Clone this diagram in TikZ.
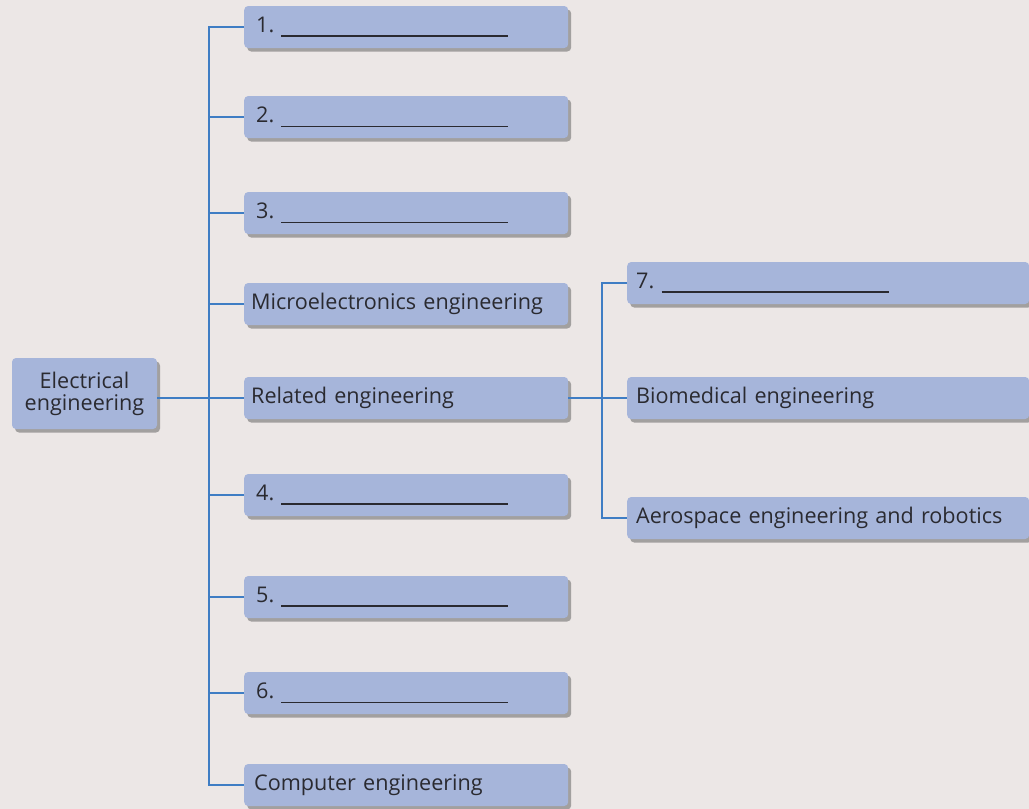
\documentclass[tikz,border=0pt]{standalone}
\usepackage{fontspec}
\setmainfont{Open Sans}
\usetikzlibrary{shadows}
\definecolor{bg}{HTML}{ECE7E6}
\definecolor{boxfill}{HTML}{A6B5DA}
\definecolor{conncol}{HTML}{3F7DC4}
\definecolor{txt}{HTML}{2A2A30}
\newcommand{\blankline}{\rule[-4pt]{227pt}{1.3pt}}
\tikzset{
  box/.style={rectangle, rounded corners=4pt, fill=boxfill, text=txt,
    minimum height=42pt, inner ysep=0pt, align=left,
    font=\fontsize{21.6}{25}\selectfont,
    drop shadow={shadow xshift=3pt, shadow yshift=-3.5pt, fill=black!60, opacity=0.55}},
  leftbox/.style={box, anchor=west, text width=310pt, inner xsep=7pt, minimum width=324pt},
  rightbox/.style={box, anchor=west, text width=384pt, inner xsep=9pt, minimum width=402pt},
  conn/.style={draw=conncol, line width=1.2pt}
}
\begin{document}
\begin{tikzpicture}[x=1pt,y=-1pt]
\useasboundingbox (0,0) rectangle (1029,809);
\fill[bg] (0,0) rectangle (1029,809);
% root
\node[box, align=center, minimum width=145pt, minimum height=71pt, inner xsep=4pt] (el) at (84.5,393.5) {Electrical\\[-3pt]engineering};
% left column
\node[leftbox] (b1) at (244,27) {\hspace*{5pt}1.~\blankline};
\node[leftbox] (b2) at (244,117) {\hspace*{5pt}2.~\blankline};
\node[leftbox] (b3) at (244,213) {\hspace*{5pt}3.~\blankline};
\node[leftbox] (mic) at (244,304) {Microelectronics engineering};
\node[leftbox] (rel) at (244,398) {Related engineering};
\node[leftbox] (b4) at (244,495) {\hspace*{5pt}4.~\blankline};
\node[leftbox] (b5) at (244,597) {\hspace*{5pt}5.~\blankline};
\node[leftbox] (b6) at (244,693) {\hspace*{5pt}6.~\blankline};
\node[leftbox] (comp) at (244,785) {\hspace*{3pt}Computer engineering};
% right column
\node[rightbox] (b7) at (627,283) {7.~\blankline};
\node[rightbox] (bio) at (627,398) {Biomedical engineering};
\node[rightbox] (aero) at (627,518) {Aerospace engineering and robotics};
% trunks
\coordinate (t1) at (209,0);
\coordinate (t2) at (602,0);
\draw[conn] (rel.west) -- (rel.west -| el.east);
\draw[conn] (b1.west) -- (b1.west -| t1) -- (comp.west -| t1) -- (comp.west);
\foreach \n in {b2,b3,mic,b4,b5,b6} \draw[conn] (\n.west) -- (\n.west -| t1);
\draw[conn] (rel.east) -- (bio.west);
\draw[conn] (b7.west) -- (b7.west -| t2) -- (aero.west -| t2) -- (aero.west);
\end{tikzpicture}
\end{document}
